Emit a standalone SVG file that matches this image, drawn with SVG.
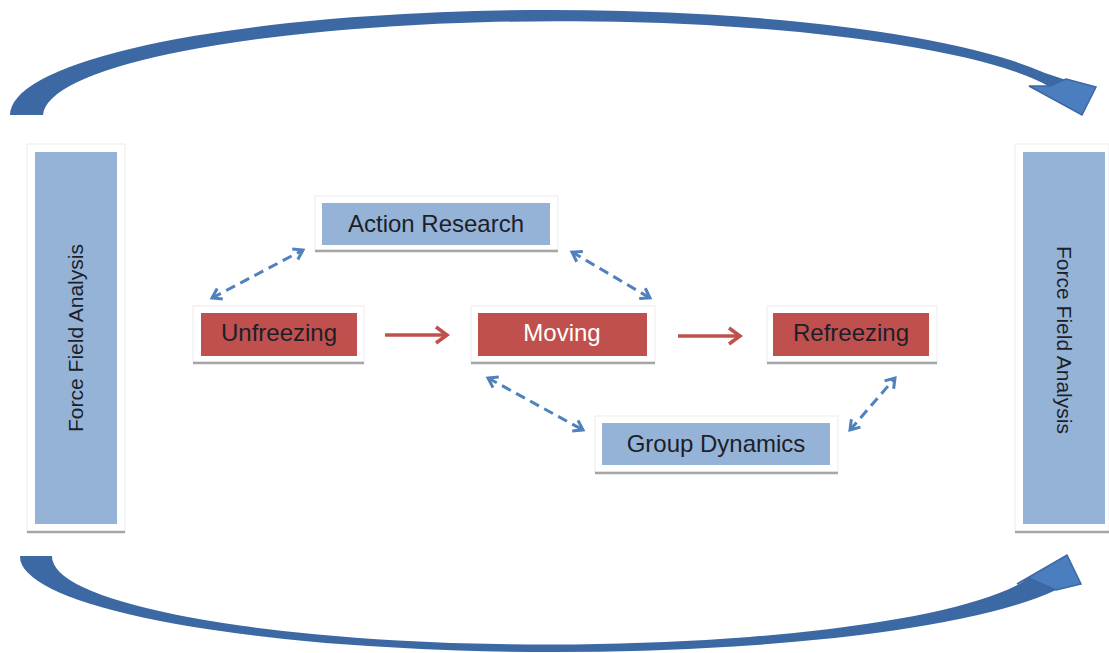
<svg xmlns="http://www.w3.org/2000/svg" width="1109" height="653" viewBox="0 0 1109 653">
<style>
  text { font-family: "Liberation Sans", Arial, sans-serif; fill: #1c1f2a; }
  .card { fill: #ffffff; stroke: #ececec; stroke-width: 1; }
  .shadow { stroke: #a6a6a6; stroke-width: 2.5; }
  .blue { fill: #95b3d7; }
  .red { fill: #c0504d; }
  .lbl { font-size: 24px; text-anchor: middle; }
  .side { font-size: 21px; text-anchor: middle; }
  .dash { fill: none; stroke: #4f81bd; stroke-width: 3; stroke-dasharray: 10 6; marker-start: url(#bh); marker-end: url(#bh); }
  .flow { fill: none; stroke: #c0504d; stroke-width: 3.5; marker-end: url(#rh); }
  .shaft { fill: #3c68a3; }
  .head { fill: #4a7ebf; stroke: #3c68a3; stroke-width: 1.5; stroke-linejoin: miter; }
</style>
<defs>
  <marker id="bh" markerUnits="userSpaceOnUse" markerWidth="16" markerHeight="16" viewBox="0 0 16 16" refX="13" refY="8" orient="auto-start-reverse">
    <path d="M4,2 L13,8 L4,14" fill="none" stroke="#4f81bd" stroke-width="3"/>
  </marker>
  <marker id="rh" markerUnits="userSpaceOnUse" markerWidth="20" markerHeight="20" viewBox="0 0 20 20" refX="17" refY="10" orient="auto">
    <path d="M6,2 L17,10 L6,18" fill="none" stroke="#c0504d" stroke-width="3.5"/>
  </marker>
</defs>

<g id="cycle-top">
  <path class="shaft" d="M10,115 A540,105 0 0 1 1045,73 L1066,80 L1050,87 A516,95 0 0 0 43,115 Z"/>
  <polygon class="head" points="1066,79 1096,87 1082,115 1029,86 1050,86"/>
</g>
<g id="cycle-bottom">
  <path class="shaft" d="M20,556 A535,95.5 0 0 0 1056,590 L1029,578 A496,88 0 0 1 52,556 Z"/>
  <polygon class="head" points="1056,590 1081,584 1067,555 1017,584 1029,578"/>
</g>

<g id="force-left">
  <rect class="card" x="27" y="144" width="98" height="388"/>
  <line class="shadow" x1="27" y1="532" x2="125" y2="532"/>
  <rect class="blue" x="35" y="152" width="82" height="372"/>
  <text class="side" transform="translate(83,338) rotate(-90)">Force Field Analysis</text>
</g>
<g id="force-right">
  <rect class="card" x="1015" y="144" width="94" height="388"/>
  <line class="shadow" x1="1015" y1="532" x2="1109" y2="532"/>
  <rect class="blue" x="1023" y="152" width="82" height="372"/>
  <text class="side" transform="translate(1057,340) rotate(90)">Force Field Analysis</text>
</g>

<g id="action-research">
  <rect class="card" x="315" y="196" width="243" height="54"/>
  <line class="shadow" x1="315" y1="251" x2="558" y2="251"/>
  <rect class="blue" x="322" y="203" width="228" height="42"/>
  <text class="lbl" x="436" y="232">Action Research</text>
</g>
<g id="unfreezing">
  <rect class="card" x="193" y="306" width="171" height="56"/>
  <line class="shadow" x1="193" y1="363" x2="364" y2="363"/>
  <rect class="red" x="201" y="313" width="156" height="43"/>
  <text class="lbl" x="279" y="341">Unfreezing</text>
</g>
<g id="moving">
  <rect class="card" x="471" y="306" width="184" height="56"/>
  <line class="shadow" x1="471" y1="363" x2="655" y2="363"/>
  <rect class="red" x="478" y="313" width="169" height="43"/>
  <text class="lbl" x="562" y="341" style="fill:#ffffff">Moving</text>
</g>
<g id="refreezing">
  <rect class="card" x="767" y="306" width="170" height="56"/>
  <line class="shadow" x1="767" y1="363" x2="937" y2="363"/>
  <rect class="red" x="773" y="313" width="156" height="43"/>
  <text class="lbl" x="851" y="341">Refreezing</text>
</g>
<g id="group-dynamics">
  <rect class="card" x="595" y="416" width="243" height="56"/>
  <line class="shadow" x1="595" y1="473" x2="838" y2="473"/>
  <rect class="blue" x="602" y="423" width="228" height="42"/>
  <text class="lbl" x="716" y="452">Group Dynamics</text>
</g>

<g id="connectors">
  <line class="flow" x1="385" y1="335" x2="447" y2="335"/>
  <line class="flow" x1="678" y1="336" x2="740" y2="336"/>
  <line class="dash" x1="212" y1="298" x2="303" y2="250"/>
  <line class="dash" x1="572" y1="252" x2="650" y2="298"/>
  <line class="dash" x1="488" y1="378" x2="583" y2="430"/>
  <line class="dash" x1="850" y1="430" x2="895" y2="378"/>
</g>
</svg>
